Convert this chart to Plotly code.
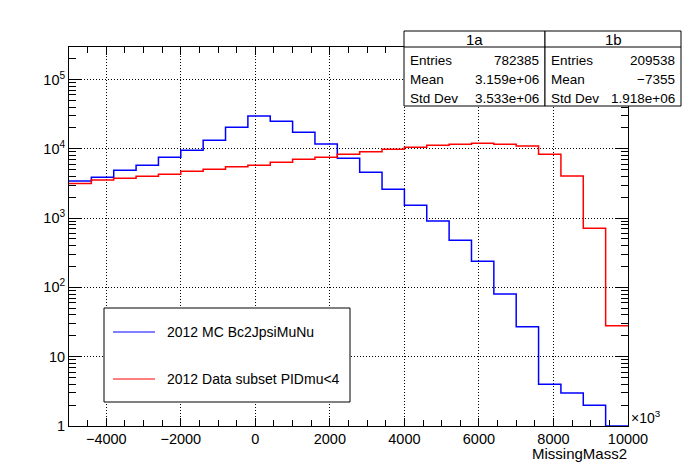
import plotly.graph_objects as go

# -------------------------------------------------------------------
# data (MissingMass2, 25 bins of 600)
# -------------------------------------------------------------------
bin_edges = [-5000, -4400, -3800, -3200, -2600, -2000, -1400, -800, -200, 400,
             1000, 1600, 2200, 2800, 3400, 4000, 4600, 5200, 5800, 6400,
             7000, 7600, 8200, 8800, 9400, 10000]

mc_counts = [3430, 3880, 4900, 5780, 7540, 9510, 13270, 20420, 29720, 24950,
             17300, 11730, 7290, 4580, 2600, 1530, 908, 478, 238, 80,
             27, 4, 3, 2, 1]

data_counts = [3150, 3550, 3750, 4010, 4290, 4730, 5060, 5520, 5780, 6390,
               7050, 7540, 8330, 9080, 9840, 10520, 11230, 11610, 12000, 11610,
               10970, 8330, 4050, 713, 28]

mc_name = "2012 MC Bc2JpsiMuNu"
data_name = "2012 Data subset PIDmu<4"

stats_1a = [("Entries", "782385"), ("Mean", "3.159e+06"), ("Std Dev", "3.533e+06")]
stats_1b = [("Entries", "209538"), ("Mean", "\u22127355"), ("Std Dev", "1.918e+06")]

x_ticks = [-4000, -2000, 0, 2000, 4000, 6000, 8000, 10000]
x_ticktext = ["\u22124000", "\u22122000", "0", "2000", "4000", "6000", "8000", "10000"]
y_ticks = [1, 10, 100, 1000, 10000, 100000]
y_ticktext = ["1", "10", "10<sup>2</sup>", "10<sup>3</sup>", "10<sup>4</sup>", "10<sup>5</sup>"]

#---------------------------------------------------------------------------------------------------------
# canvas geometry (pixels)
#---------------------------------------------------------------------------------------------------------
W, H = 698, 474
L, R, T, B = 69, 70, 47, 48
FONT = "Liberation Sans, Arial, sans-serif"


def px(x):
    return (x - L) / (W - L - R)


def py(y):
    return (H - B - y) / (H - T - B)


fig = go.Figure()

# histograms drawn as steps
fig.add_trace(go.Scatter(
    x=bin_edges, y=mc_counts + [mc_counts[-1]],
    mode="lines", line=dict(color="#0000ff", width=1.5, shape="hv"),
    name=mc_name, showlegend=False, hoverinfo="skip",
))
fig.add_trace(go.Scatter(
    x=bin_edges, y=data_counts + [data_counts[-1]],
    mode="lines", line=dict(color="#ff0000", width=1.5, shape="hv"),
    name=data_name, showlegend=False, hoverinfo="skip",
))

shapes = []
annotations = []

# legend box
shapes.append(dict(type="rect", xref="paper", yref="paper",
                   x0=px(104), x1=px(350), y0=py(402), y1=py(308),
                   line=dict(color="black", width=1), fillcolor="white", layer="above"))
for yy, col, txt in [(332, "#0000ff", mc_name), (379, "#ff0000", data_name)]:
    shapes.append(dict(type="line", xref="paper", yref="paper",
                       x0=px(113), x1=px(155), y0=py(yy), y1=py(yy),
                       line=dict(color=col, width=1.2), layer="above"))
    annotations.append(dict(xref="paper", yref="paper", x=px(165), y=py(yy),
                            text=txt, showarrow=False, xanchor="left", yanchor="middle",
                            font=dict(size=14, color="black", family=FONT)))

# stats boxes 1a / 1b
for (x0, x1, title, rows) in [(404, 545, "1a", stats_1a), (545, 681, "1b", stats_1b)]:
    shapes.append(dict(type="rect", xref="paper", yref="paper",
                       x0=px(x0), x1=px(x1), y0=py(106), y1=py(31),
                       line=dict(color="black", width=1), fillcolor="white", layer="above"))
    shapes.append(dict(type="line", xref="paper", yref="paper",
                       x0=px(x0), x1=px(x1), y0=py(47), y1=py(47),
                       line=dict(color="black", width=1), layer="above"))
    annotations.append(dict(xref="paper", yref="paper", x=px((x0 + x1) / 2), y=py(39.5),
                            text=title, showarrow=False, xanchor="center", yanchor="middle",
                            font=dict(size=15, color="black", family=FONT)))
    for i, (lab, val) in enumerate(rows):
        yy = 61 + i * 18.5
        annotations.append(dict(xref="paper", yref="paper", x=px(x0 + 4), y=py(yy),
                                text=lab, showarrow=False, xanchor="left", yanchor="middle",
                                font=dict(size=13.5, color="black", family=FONT)))
        annotations.append(dict(xref="paper", yref="paper", x=px(x1 - 4), y=py(yy),
                                text=val, showarrow=False, xanchor="right", yanchor="middle",
                                font=dict(size=13.5, color="black", family=FONT)))

# x10^3 and axis title
annotations.append(dict(xref="paper", yref="paper", x=px(629), y=py(428),
                        text="\u00d710<sup>3</sup>", showarrow=False,
                        xanchor="left", yanchor="bottom",
                        font=dict(size=14, color="black", family=FONT)))
annotations.append(dict(xref="paper", yref="paper", x=px(629), y=py(453),
                        text="MissingMass2", showarrow=False,
                        xanchor="right", yanchor="middle",
                        font=dict(size=15, color="black", family=FONT)))

minor_y = [m * 10 ** k for k in range(0, 6) for m in range(2, 10)]

fig.update_layout(
    width=W, height=H,
    margin=dict(l=L, r=R, t=T, b=B, autoexpand=False),
    paper_bgcolor="white", plot_bgcolor="white",
    font=dict(family=FONT, size=14, color="black"),
    shapes=shapes, annotations=annotations,
    xaxis=dict(
        range=[-5000, 10000], tickmode="array", tickvals=x_ticks, ticktext=x_ticktext,
        ticks="inside", ticklen=8, tickcolor="black", automargin=False,
        minor=dict(dtick=500, tick0=0, ticks="inside", ticklen=6, tickcolor="black", showgrid=False),
        showline=True, linecolor="black", linewidth=1, mirror="allticks",
        showgrid=True, gridcolor="black", gridwidth=1, griddash="1px,2px",
        zeroline=False, tickfont=dict(size=14.5),
    ),
    yaxis=dict(
        type="log", range=[0, 5.469], tickmode="array", tickvals=y_ticks, ticktext=y_ticktext,
        ticks="inside", ticklen=12, tickcolor="black", automargin=False,
        minor=dict(tickmode="array", tickvals=minor_y, ticks="inside", ticklen=7,
                   tickcolor="black", showgrid=False),
        showline=True, linecolor="black", linewidth=1, mirror="allticks",
        showgrid=True, gridcolor="black", gridwidth=1, griddash="1px,2px",
        zeroline=False, tickfont=dict(size=14.5),
    ),
)

# page body has a default margin; drop it so the canvas sits at the window corner
fig.write_html("out.html", config={"displayModeBar": False},
               post_script="document.body.style.margin = '0';")
